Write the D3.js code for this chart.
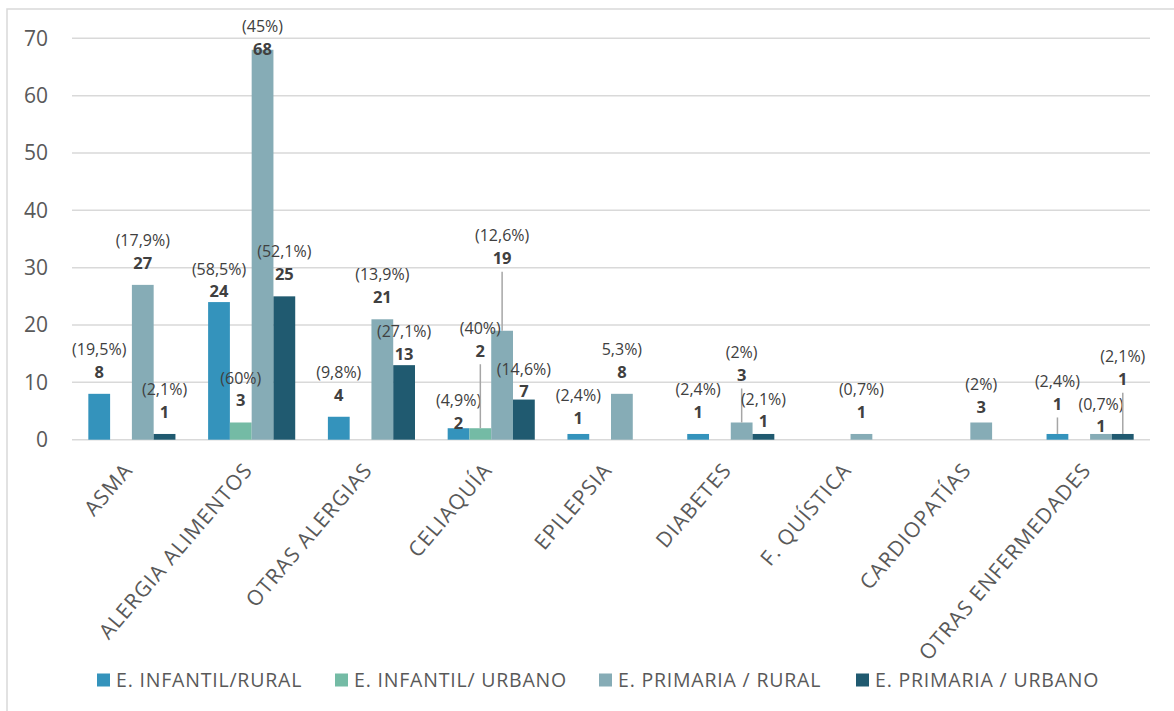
<!DOCTYPE html>
<html>
<head>
<meta charset="utf-8">
<script src="https://cdn.jsdelivr.net/npm/d3@7"></script>
<style>
  html, body { margin: 0; padding: 0; background: #fff; }
  svg { display: block; font-family: "Open Sans", "DejaVu Sans", sans-serif; }
</style>
</head>
<body>
<svg id="chart" width="1174" height="711"></svg>
<script>
// ---- data ----
const categories = ["ASMA", "ALERGIA ALIMENTOS", "OTRAS ALERGIAS", "CELIAQUÍA", "EPILEPSIA",
  "DIABETES", "F. QUÍSTICA", "CARDIOPATÍAS", "OTRAS ENFERMEDADES"];
const seriesNames = ["E. INFANTIL/RURAL", "E. INFANTIL/ URBANO", "E. PRIMARIA / RURAL", "E. PRIMARIA / URBANO"];

const infantilRural   = [8, 24, 4, 2, 1, 1, 0, 0, 1];
const infantilUrbano  = [0, 3, 0, 2, 0, 0, 0, 0, 0];
const primariaRural   = [27, 68, 21, 19, 8, 3, 1, 3, 1];
const primariaUrbano  = [1, 25, 13, 7, 0, 1, 0, 0, 1];

const pctInfantilRural  = ["(19,5%)", "(58,5%)", "(9,8%)", "(4,9%)", "(2,4%)", "(2,4%)", null, null, "(2,4%)"];
const pctInfantilUrbano = [null, "(60%)", null, "(40%)", null, null, null, null, null];
const pctPrimariaRural  = ["(17,9%)", "(45%)", "(13,9%)", "(12,6%)", "5,3%)", "(2%)", "(0,7%)", "(2%)", "(0,7%)"];
const pctPrimariaUrbano = ["(2,1%)", "(52,1%)", "(27,1%)", "(14,6%)", null, "(2,1%)", null, null, "(2,1%)"];

const yTicks = [0, 10, 20, 30, 40, 50, 60, 70];

// ---- styling / layout ----
const colors = ["#3493bc", "#74bba5", "#86acb6", "#205a70"];
const seriesValues = [infantilRural, infantilUrbano, primariaRural, primariaUrbano];
const seriesPct = [pctInfantilRural, pctInfantilUrbano, pctPrimariaRural, pctPrimariaUrbano];

// distance (px) from the bar top to the centre of the value line; labels
// lifted far above their bar get a leader line
const defaultLift = 22;
const liftOverrides = {
  "ALERGIA ALIMENTOS|0": 10.5,
  "ALERGIA ALIMENTOS|2": 1,
  "OTRAS ALERGIAS|3": 11,
  "CELIAQUÍA|0": 5,
  "CELIAQUÍA|1": 77.5,
  "CELIAQUÍA|2": 72.5,
  "CELIAQUÍA|3": 8,
  "EPILEPSIA|0": 15.7,
  "DIABETES|2": 47.5,
  "DIABETES|3": 12.3,
  "CARDIOPATÍAS|2": 15.2,
  "OTRAS ENFERMEDADES|0": 30,
  "OTRAS ENFERMEDADES|2": 7.3,
  "OTRAS ENFERMEDADES|3": 54.7
};

const svg = d3.select("#chart");
const W = 1174, H = 711;
const plot = { left: 72, right: 1150, top: 38.3, bottom: 439.7 };

// chart area frame (only top and left edges fall inside the canvas)
svg.append("path")
  .attr("d", `M7,${H} V9 H${W}`)
  .attr("fill", "none").attr("stroke", "#d9d9d9").attr("stroke-width", 1.5);

const x0 = d3.scaleBand().domain(categories).range([plot.left, plot.right]).paddingInner(1.5 / 5.5).paddingOuter(0.75 / 5.5);
const x1 = d3.scaleBand().domain(d3.range(seriesNames.length)).range([0, x0.bandwidth()]);
const y = d3.scaleLinear().domain([0, 70]).range([plot.bottom, plot.top]);

// gridlines
svg.append("g")
  .selectAll("line").data(yTicks).join("line")
  .attr("x1", plot.left).attr("x2", plot.right)
  .attr("y1", d => y(d)).attr("y2", d => y(d))
  .attr("stroke", "#d9d9d9").attr("stroke-width", 1.5);

// y axis labels
const yAxis = d3.axisLeft(y).tickValues(yTicks).tickSize(0).tickPadding(0);
const gy = svg.append("g").attr("transform", `translate(48,0)`).call(yAxis);
gy.select(".domain").remove();
gy.selectAll("text").attr("font-size", 21).attr("fill", "#595959")
  .attr("font-family", "'Open Sans', sans-serif");

// bars
const rows = [];
categories.forEach((c, ci) => {
  seriesValues.forEach((vals, si) => {
    rows.push({ cat: c, si, v: vals[ci], pct: seriesPct[si][ci] });
  });
});

svg.append("g").selectAll("rect").data(rows.filter(d => d.v > 0)).join("rect")
  .attr("x", d => x0(d.cat) + x1(d.si))
  .attr("width", x1.bandwidth())
  .attr("y", d => y(d.v))
  .attr("height", d => y(0) - y(d.v))
  .attr("fill", d => colors[d.si]);

// data labels
const labels = svg.append("g");
rows.filter(d => d.v > 0).forEach(d => {
  const cx = x0(d.cat) + x1(d.si) + x1.bandwidth() / 2;
  const top = y(d.v);
  const lift = liftOverrides[`${d.cat}|${d.si}`] ?? defaultLift;
  const vy = top - lift;
  if (lift > 25) {
    labels.append("line")
      .attr("x1", cx).attr("x2", cx)
      .attr("y1", vy + 13.5).attr("y2", top)
      .attr("stroke", "#a6a6a6").attr("stroke-width", 1.5);
  }
  labels.append("text")
    .attr("x", cx).attr("y", vy).attr("dy", "0.35em")
    .attr("text-anchor", "middle").attr("font-size", 16.5).attr("font-weight", "bold")
    .attr("fill", "#404040").text(d.v);
  if (d.pct) {
    labels.append("text")
      .attr("x", cx).attr("y", vy - 22.5).attr("dy", "0.35em")
      .attr("text-anchor", "middle").attr("font-size", 16)
      .attr("fill", "#404040").text(d.pct);
  }
});

// category labels, rotated
const xAxis = d3.axisBottom(x0).tickSize(0).tickPadding(0);
const gx = svg.append("g").attr("transform", `translate(0,${plot.bottom})`).call(xAxis);
gx.select(".domain").remove();
gx.selectAll(".tick text")
  .attr("font-size", 21).attr("letter-spacing", 1.1).attr("fill", "#595959")
  .attr("font-family", "'Open Sans', sans-serif")
  .attr("text-anchor", "end")
  .attr("dy", null).attr("y", 0)
  .attr("transform", "translate(2,31) rotate(-49.5)");

// legend
const legendX = [97, 335, 599, 856];
const legend = svg.append("g").attr("transform", "translate(0,680)");
seriesNames.forEach((name, i) => {
  legend.append("rect").attr("x", legendX[i]).attr("y", -6.5).attr("width", 13).attr("height", 13).attr("fill", colors[i]);
  legend.append("text").attr("x", legendX[i] + 19).attr("y", 0).attr("dy", "0.35em")
    .attr("font-size", 19.5).attr("letter-spacing", 0.8).attr("fill", "#595959").text(name);
});
</script>
</body>
</html>
